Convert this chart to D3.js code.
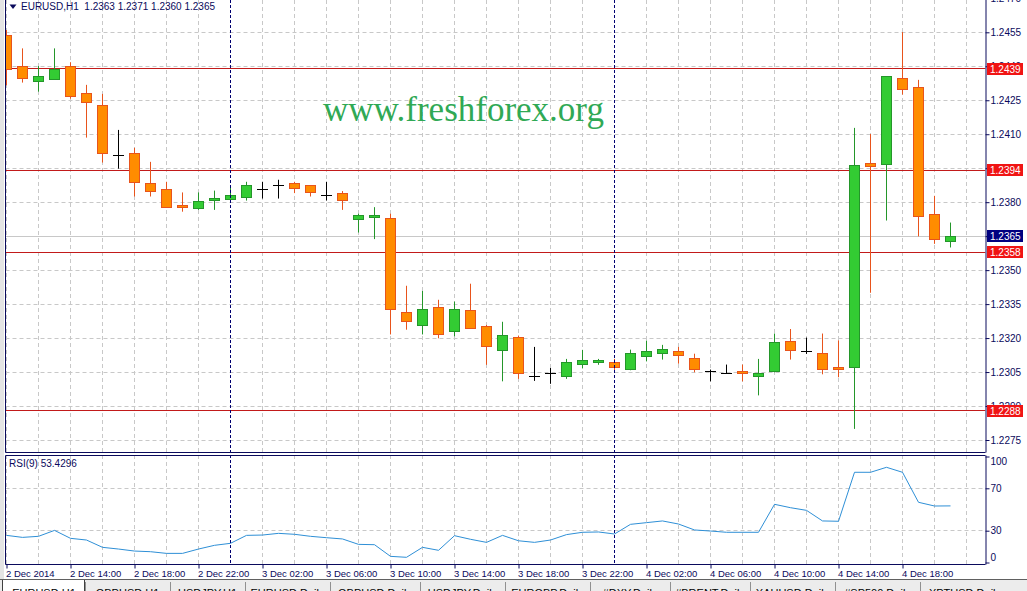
<!DOCTYPE html>
<html><head><meta charset="utf-8">
<script src="https://cdn.jsdelivr.net/npm/d3@7"></script>
<style>body{margin:0;background:#fff;overflow:hidden}svg{display:block}</style>
</head><body><svg id="c" width="1027" height="591"></svg>
<script>
// ---------------- data ----------------
const opens  = [1.24538,1.24401,1.24337,1.24345,1.24400,1.24278,1.24228,1.24008,1.24016,1.23881,
                1.23858,1.23787,1.23769,1.23807,1.23809,1.23818,1.23858,1.23872,1.23881,1.23872,
                1.23828,1.23840,1.23721,1.23730,1.23730,1.23311,1.23258,1.23337,1.23231,1.23320,
                1.23249,1.23146,1.23201,1.23029,1.23043,1.23027,1.23082,1.23090,1.23090,1.23058,
                1.23119,1.23130,1.23139,1.23108,1.23052,1.23042,1.23052,1.23029,1.23049,1.23187,
                1.23139,1.23130,1.23068,1.23068,1.23969,1.23966,1.24347,1.24307,1.23747,1.2363];
const highs  = [1.24560,1.24479,1.24401,1.24479,1.24418,1.24318,1.24278,1.24119,1.24040,1.23978,
                1.23890,1.23843,1.23843,1.23851,1.23872,1.23890,1.23890,1.23899,1.23890,1.23872,
                1.23890,1.23849,1.23749,1.23778,1.23749,1.23431,1.23408,1.23369,1.23361,1.23440,
                1.23258,1.23272,1.23211,1.23161,1.23068,1.23108,1.23148,1.23108,1.23108,1.23149,
                1.23189,1.23170,1.23161,1.23131,1.23061,1.23083,1.23083,1.23108,1.23220,1.23240,
                1.23202,1.23220,1.23190,1.24128,1.24101,1.24356,1.24551,1.24340,1.23828,1.2371];
const lows   = [1.24316,1.24328,1.24288,1.24345,1.24257,1.24085,1.23975,1.23948,1.23825,1.23825,
                1.23775,1.23758,1.23766,1.23766,1.23806,1.23807,1.23816,1.23816,1.23840,1.23825,
                1.23807,1.23766,1.23666,1.23637,1.23216,1.23237,1.23216,1.23199,1.23208,1.23240,
                1.23082,1.23009,1.23020,1.23011,1.22998,1.23020,1.23066,1.23082,1.23053,1.23058,
                1.23097,1.23105,1.23087,1.23049,1.23009,1.23042,1.23009,1.22947,1.23049,1.23105,
                1.23130,1.23040,1.23027,1.22799,1.23400,1.23719,1.24275,1.23649,1.23616,1.2360];
const closes = [1.24387,1.24347,1.24357,1.24387,1.24266,1.24237,1.24016,1.24008,1.23888,1.23847,
                1.23778,1.23778,1.23802,1.23818,1.23828,1.23872,1.23858,1.23872,1.23858,1.23840,
                1.23828,1.23807,1.23739,1.23739,1.23328,1.23271,1.23328,1.23220,1.23328,1.23240,
                1.23161,1.23211,1.23042,1.23029,1.23043,1.23090,1.23099,1.23099,1.23068,1.23130,
                1.23139,1.23148,1.23121,1.23058,1.23052,1.23042,1.23042,1.23043,1.23179,1.23148,
                1.23139,1.23059,1.23059,1.23960,1.23957,1.24356,1.24299,1.23739,1.23637,1.2365];
const rsiValues = [25.6,23.7,24.7,30.3,22.8,21.2,14.3,12.7,10.8,10.2,
                   8.6,8.6,12.7,16.2,18.1,25.6,25.9,27.5,26.6,24.7,
                   23.4,22.2,17.1,16.8,5.8,4.9,14.3,11.5,25.3,21.9,
                   19.0,25.6,20.5,19.0,21.2,26.3,28.5,28.8,26.9,36.0,
                   37.6,39.2,36.3,30.7,29.7,28.5,28.5,28.5,54.9,51.7,
                   49.2,39.2,38.9,85.1,85.1,89.8,85.1,56.8,53.3,53.4];
const xTickIndex  = [0,4,8,12,16,20,24,28,32,36,40,44,48,52,56];
const xTickLabels = ["2 Dec 2014","2 Dec 14:00","2 Dec 18:00","2 Dec 22:00","3 Dec 02:00","3 Dec 06:00",
                     "3 Dec 10:00","3 Dec 14:00","3 Dec 18:00","3 Dec 22:00","4 Dec 02:00","4 Dec 06:00",
                     "4 Dec 10:00","4 Dec 14:00","4 Dec 18:00"];
const daySeparators = [14,38];
const priceTicks = [1.2470,1.2455,1.2440,1.2425,1.2410,1.2395,1.2380,1.2365,1.2350,1.2335,1.2320,1.2305,1.2290,1.2275];
const rsiTicks = [100,70,30,0];
const rsiGrid = [70,30];
const levels = [1.2439,1.2394,1.2358,1.2288];
const bidPrice = 1.2365;
const headerText = "EURUSD,H1  1.2363 1.2371 1.2360 1.2365";
const rsiTitle = "RSI(9) 53.4296";
const watermark = "www.freshforex.org";
const tabNames = ["EURUSD,H1","GBPUSD,H1","USDJPY,H1","EURUSD,Daily","GBPUSD,Daily","USDJPY,Daily",
                  "EURGBP,Daily","#DXY,Daily","#BRENT,Daily","XAUUSD,Daily","#SP500,Daily","XPTUSD,Daily"];

// ---------------- layout ----------------
const W=1027,H=591;
const L=5.5, R=985.5, mainBot=452.5, rsiTop=455.5, rsiBot=564.5;
const navy="#0a0a5c", grid="#c8c8c8";
const font="'Liberation Sans', Arial, sans-serif";
const svg=d3.select("#c");
svg.append("rect").attr("width",W).attr("height",H).attr("fill","#fff");

const n=opens.length;
const x=d3.scaleLinear().domain([0,60]).range([6.5,966.5]);
const y=d3.scaleLinear().domain([1.2275,1.2455]).range([440,32.3]);
const yr=d3.scaleLinear().domain([0,100]).range([562.5,456.5]);
const crisp=v=>Math.round(v-0.5)+0.5;

const defs=svg.append("defs");
defs.append("clipPath").attr("id","cm").append("rect").attr("x",L).attr("y",0).attr("width",R-L).attr("height",mainBot);
defs.append("clipPath").attr("id","cr").append("rect").attr("x",L).attr("y",rsiTop).attr("width",R-L).attr("height",rsiBot-rsiTop);

svg.append("rect").attr("x",0).attr("y",0).attr("width",4).attr("height",579).attr("fill","#e4e4e4");

const gm=svg.append("g").attr("clip-path","url(#cm)");
const gr=svg.append("g").attr("clip-path","url(#cr)");

// vertical grid (every 2 bars)
const vIdx=d3.range(0,62,2).filter(i=>!daySeparators.includes(i));
[gm,gr].forEach(g=>{
  g.selectAll("line.vg").data(vIdx).join("line").attr("class","vg")
   .attr("x1",d=>crisp(x(d))).attr("x2",d=>crisp(x(d))).attr("y1",0).attr("y2",H)
   .attr("stroke",grid).attr("stroke-dasharray","4,3");
});
gm.selectAll("line.hg").data(priceTicks).join("line").attr("class","hg")
  .attr("x1",L).attr("x2",R).attr("y1",d=>crisp(y(d))).attr("y2",d=>crisp(y(d)))
  .attr("stroke",grid).attr("stroke-dasharray","4,3");
gr.selectAll("line.hg").data(rsiGrid).join("line").attr("class","hg")
  .attr("x1",L).attr("x2",R).attr("y1",d=>crisp(yr(d))).attr("y2",d=>crisp(yr(d)))
  .attr("stroke",grid).attr("stroke-dasharray","4,3");

// watermark
gm.append("text").attr("x",323).attr("y",121).text(watermark)
  .attr("font-family","'Liberation Serif','Times New Roman',serif").attr("font-size",35)
  .attr("fill","#30a955");

// day separators
svg.selectAll("line.ds").data(daySeparators).join("line").attr("class","ds")
  .attr("x1",d=>crisp(x(d))).attr("x2",d=>crisp(x(d))).attr("y1",0).attr("y2",rsiBot)
  .attr("stroke","#000070").attr("stroke-dasharray","3,2");

// bid line & level lines
gm.append("line").attr("x1",L).attr("x2",R).attr("y1",crisp(y(bidPrice))).attr("y2",crisp(y(bidPrice)))
  .attr("stroke","#c8c8c8");
gm.selectAll("line.lv").data(levels).join("line").attr("class","lv")
  .attr("x1",L).attr("x2",R).attr("y1",d=>crisp(y(d))).attr("y2",d=>crisp(y(d)))
  .attr("stroke","#c21a1a");

// candles
const bars=d3.range(n).map(i=>({i,o:opens[i],h:highs[i],l:lows[i],c:closes[i]}));
const upFill="#33cc33", upLine="#24962a", dnFill="#ff8c00", dnLine="#e8541c";
const cg=gm.selectAll("g.bar").data(bars).join("g").attr("class","bar");
cg.append("line")
  .attr("x1",d=>x(d.i)).attr("x2",d=>x(d.i))
  .attr("y1",d=>y(d.h)).attr("y2",d=>y(d.l))
  .attr("stroke",d=>d.c>d.o?upLine:(d.c<d.o?dnLine:"#000"));
cg.filter(d=>d.c!==d.o).append("rect")
  .attr("x",d=>x(d.i)-5).attr("width",10)
  .attr("y",d=>crisp(y(Math.max(d.o,d.c))))
  .attr("height",d=>Math.max(1,Math.round(Math.abs(y(d.o)-y(d.c)))))
  .attr("fill",d=>d.c>d.o?upFill:dnFill)
  .attr("stroke",d=>d.c>d.o?upLine:dnLine);
cg.filter(d=>d.c===d.o).append("line")
  .attr("x1",d=>x(d.i)-5.5).attr("x2",d=>x(d.i)+5.5)
  .attr("y1",d=>crisp(y(d.o))).attr("y2",d=>crisp(y(d.o))).attr("stroke","#000");

// RSI line
gr.append("path").datum(rsiValues)
  .attr("d",d3.line().x((d,i)=>x(i)).y(d=>yr(d)))
  .attr("fill","none").attr("stroke","#2e8fd6").attr("stroke-width",1);

// panel borders
const bl=(x1,y1,x2,y2)=>svg.append("line").attr("x1",x1).attr("y1",y1).attr("x2",x2).attr("y2",y2).attr("stroke",navy);
bl(L,0,L,mainBot); bl(L,rsiTop,L,rsiBot);
bl(L,mainBot,R,mainBot); bl(L,rsiTop,R,rsiTop); bl(L,rsiBot,R,rsiBot);

// price axis
const pa=svg.append("g").attr("transform",`translate(${R},0)`)
  .call(d3.axisRight(y).tickValues(priceTicks).tickFormat(d3.format(".4f")).tickSize(4).tickPadding(1));
pa.select(".domain").attr("d",`M0.5,0V${mainBot}`).attr("stroke",navy);
pa.selectAll(".tick line").attr("stroke",navy);
pa.selectAll(".tick text").attr("fill",navy).attr("font-family",font).attr("font-size",10).attr("x",5);

// rsi axis
const ra=svg.append("g").attr("transform",`translate(${R},0)`)
  .call(d3.axisRight(yr).tickValues(rsiTicks).tickSize(4).tickPadding(1));
ra.select(".domain").attr("d",`M0.5,${rsiTop}V${rsiBot}`).attr("stroke",navy);
ra.selectAll(".tick line").attr("stroke",navy);
ra.selectAll(".tick text").attr("fill",navy).attr("font-family",font).attr("font-size",10).attr("x",5)
  .attr("dy",d=>d===100?"0.75em":(d===0?"-0.2em":"0.32em"));

// level labels
const lab=svg.append("g");
levels.forEach(v=>{
  const yy=Math.round(y(v));
  lab.append("rect").attr("x",987).attr("y",yy-6).attr("width",36).attr("height",12).attr("fill","#f01414");
  lab.append("text").attr("x",990).attr("y",yy).attr("dy","0.35em").text(d3.format(".4f")(v))
    .attr("fill","#fff").attr("font-family",font).attr("font-size",10);
});
{
  const yy=Math.round(y(bidPrice));
  lab.append("rect").attr("x",987).attr("y",yy-6).attr("width",36).attr("height",12).attr("fill","#000080");
  lab.append("text").attr("x",990).attr("y",yy).attr("dy","0.35em").text(d3.format(".4f")(bidPrice))
    .attr("fill","#fff").attr("font-family",font).attr("font-size",10);
}

// x axis
const xa=svg.append("g").attr("transform",`translate(0,${rsiBot})`)
  .call(d3.axisBottom(x).tickValues(xTickIndex).tickFormat((d,k)=>xTickLabels[k]).tickSize(4).tickPadding(2));
xa.select(".domain").remove();
xa.selectAll(".tick line").attr("stroke",navy);
xa.selectAll(".tick text").attr("fill",navy).attr("font-family",font).attr("font-size",9.5)
  .attr("text-anchor","start").attr("x",-1).attr("y",4).attr("dy","0.9em");

// header
svg.append("path").attr("d","M9.5,4.5 L16.5,4.5 L13,9 Z").attr("fill",navy);
svg.append("text").attr("x",21).attr("y",10).text(headerText).attr("xml:space","preserve")
  .style("white-space","pre").attr("fill",navy).attr("font-family",font).attr("font-size",10);
svg.append("text").attr("x",9).attr("y",467).text(rsiTitle)
  .attr("fill",navy).attr("font-family",font).attr("font-size",10);

// tab bar
const tabEdges=[3,85,170,245,330,420,505,590,670,750,835,920,1010];
const tb=svg.append("g");
tb.append("rect").attr("x",0).attr("y",579).attr("width",W).attr("height",12).attr("fill","#ececec");
tb.append("line").attr("x1",0).attr("x2",W).attr("y1",579.5).attr("y2",579.5).attr("stroke","#606060");
tb.append("rect").attr("x",3).attr("y",580).attr("width",81).attr("height",11).attr("fill","#fff");
tb.append("line").attr("x1",2.5).attr("x2",2.5).attr("y1",580).attr("y2",591).attr("stroke","#404040");
tb.append("line").attr("x1",84.5).attr("x2",84.5).attr("y1",580).attr("y2",591).attr("stroke","#404040");
tabNames.forEach((t,k)=>{
  const a=tabEdges[k], b=tabEdges[k+1]||W;
  if(k>0) tb.append("line").attr("x1",a+0.5).attr("x2",a+0.5).attr("y1",582).attr("y2",591).attr("stroke","#909090");
  tb.append("text").attr("x",(a+b)/2).attr("y",597).attr("text-anchor","middle").text(t)
    .attr("fill","#000").attr("font-family",font).attr("font-size",11);
});
</script></body></html>
